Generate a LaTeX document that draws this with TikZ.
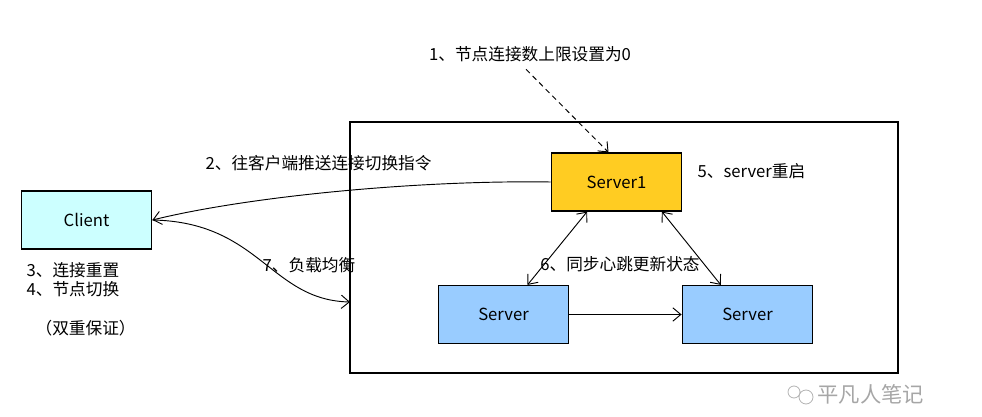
\documentclass[tikz,border=0pt]{standalone}
\usepackage{fontspec}
\setmainfont{Noto Sans CJK SC}
\usetikzlibrary{arrows.meta}
\definecolor{clientfill}{HTML}{CCFFFF}
\definecolor{leadfill}{HTML}{FFCC22}
\definecolor{serverfill}{HTML}{99CCFF}
\tikzset{
  box/.style={draw, line width=0.9pt, minimum width=98pt, minimum height=43.5pt, font=\fontsize{12.5}{14}\selectfont},
  note/.style={font=\fontsize{12.5}{14}\selectfont, inner sep=1pt},
  tip/.tip={Straight Barb[length=6pt,width=10pt]},
  link/.style={line width=0.7pt, -tip}
}
\begin{document}
\begin{tikzpicture}[x=0.75pt, y=-0.75pt]
  \useasboundingbox (0,0) rectangle (982,417);

  % Server group frame
  \draw[line width=0.9pt] (350,122) rectangle (898,373);
  \coordinate (lb) at (350,302);

  % Nodes
  \node[box, fill=clientfill] (client) at (86.5,220) {Client};
  \node[box, fill=leadfill] (server1) at (616.5,182) {Server1};
  \node[box, fill=serverfill] (serverL) at (503.5,314.5) {Server};
  \node[box, fill=serverfill] (serverR) at (747.5,314.5) {Server};

  % Labels
  \node[note] (step1) at (530,54) {1、节点连接数上限设置为0};
  \node[note, anchor=west] (step2) at (204,163) {2、往客户端推送连接切换指令};
  \node[note, anchor=west] (step3) at (25,270) {3、连接重置};
  \node[note, anchor=west] (step4) at (25,289) {4、节点切换};
  \node[note, anchor=west] (both) at (34,328) {（双重保证）};
  \node[note, anchor=west] (step5) at (696,171) {5、server重启};
  \node[note] (step6) at (620,264) {6、同步心跳更新状态};
  \node[note] (step7) at (309,265) {7、负载均衡};

  % Watermark
  \draw[black!30, line width=0.6pt] (794,392) circle (6) (806,397) circle (7);
  \node[note, anchor=west, text=black!35, font=\fontsize{16}{18}\selectfont] (mark) at (816,394) {平凡人笔记};

  % Connectors
  \draw[link, dash pattern=on 4pt off 3pt] (step1.south) ++(-4,6) -- ([xshift=-6pt]server1.north);
  \draw[link] (server1.west) .. controls (420,180) and (250,196) .. (client.east);
  \draw[link] (client.east) .. controls (260,222) and (270,300) .. (lb);
  \draw[link, tip-tip] ([xshift=-22pt]server1.south) -- ([xshift=18pt]serverL.north);
  \draw[link, tip-tip] ([xshift=34pt]server1.south) -- ([xshift=-20pt]serverR.north);
  \draw[link] (serverL.east) -- (serverR.west);
\end{tikzpicture}
\end{document}
